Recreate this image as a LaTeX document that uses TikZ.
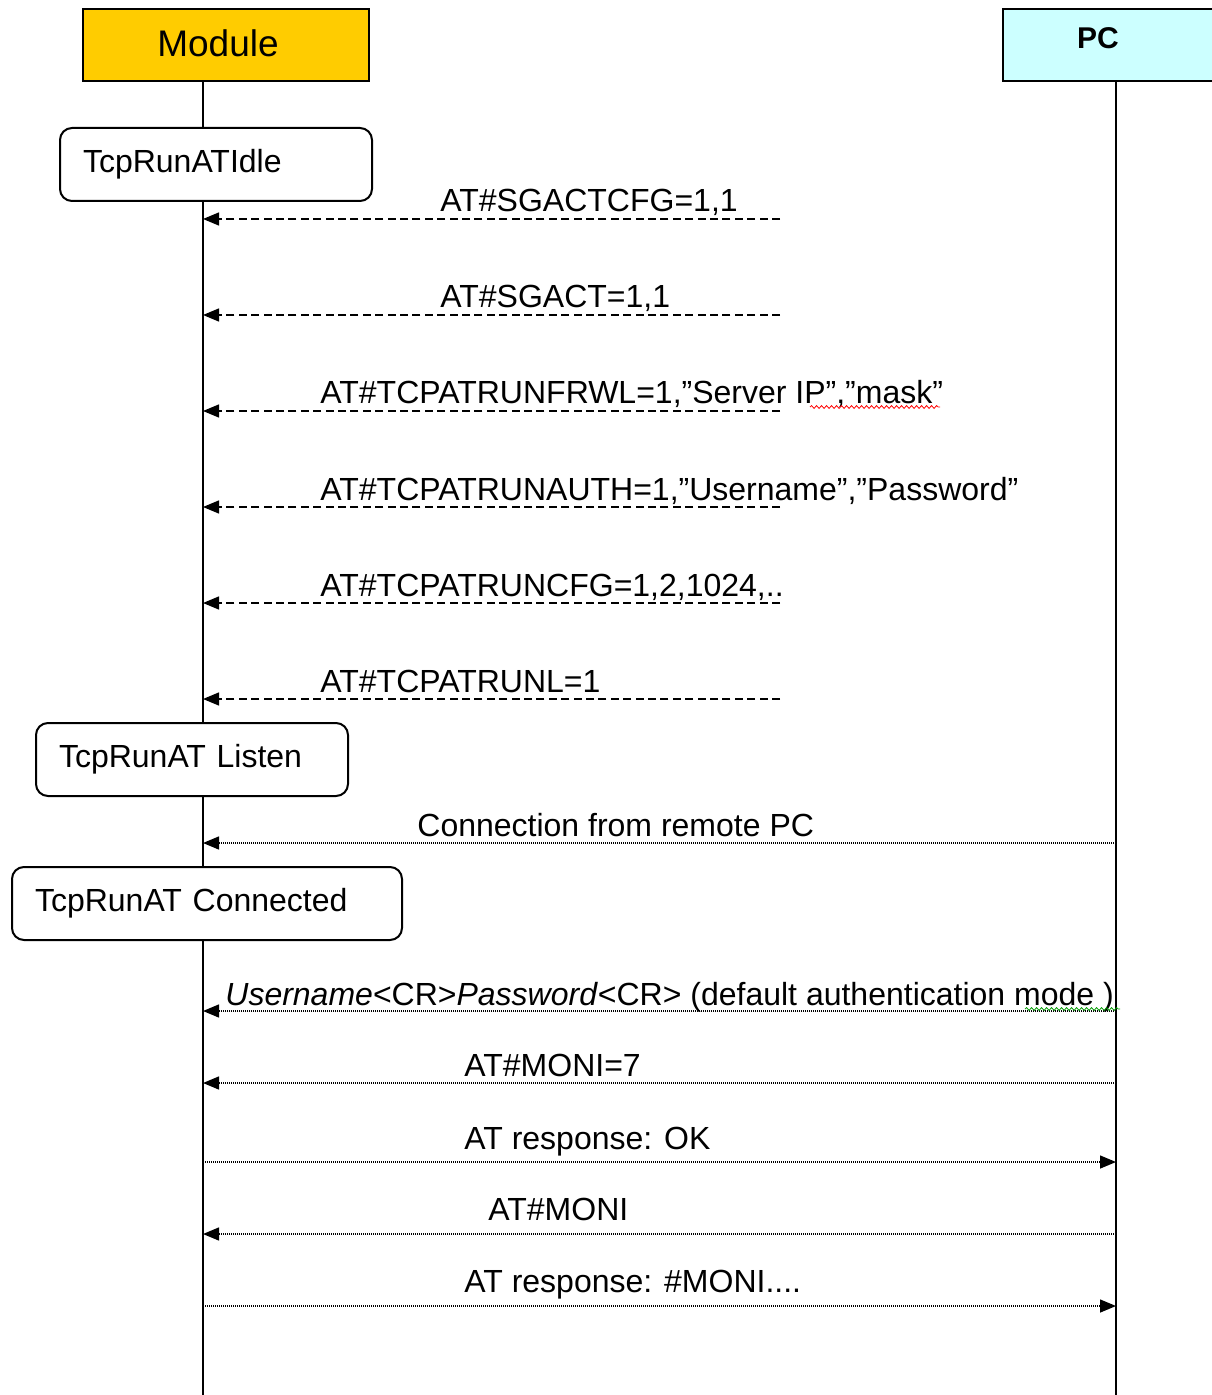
\documentclass[tikz,border=0pt]{standalone}
\usepackage{fontspec}
\setmainfont{Liberation Sans}
\usetikzlibrary{arrows.meta,decorations.pathmorphing}

\definecolor{modgold}{RGB}{255,204,0}
\definecolor{pccyan}{RGB}{204,255,255}

\tikzset{
   actor/.style={draw,line width=1pt,minimum height=36pt,inner sep=0pt},
   actorname/.style={inner sep=0pt,font=\fontsize{18.5}{22}\selectfont},
   lifeline/.style={line width=1pt},
   state/.style={draw,fill=white,line width=1pt,rounded corners=6pt,
      minimum height=36.5pt,inner xsep=11.5pt,inner ysep=0pt,align=left,
      anchor=west,font=\fontsize{16}{19}\selectfont},
   msglabel/.style={anchor=base west,inner sep=0pt,font=\fontsize{16}{19}\selectfont},
   cmdarrow/.style={-{Triangle[length=8pt,width=6.5pt]},line width=0.7pt,
      dash pattern=on 4pt off 2.2pt},
   pcarrow/.style={-{Triangle[length=8pt,width=6.5pt]},line width=0.7pt,
      dash pattern=on 0.5pt off 0.5pt},
   squiggle/.style={line width=0.4pt,decorate,
      decoration={snake,amplitude=0.7pt,segment length=2.5pt}}
}

\begin{document}
\begin{tikzpicture}[x=0.5pt,y=-0.5pt]
   \useasboundingbox (0,0) rectangle (1211,1395);

   \coordinate (mline) at (203,1395);
   \coordinate (pline) at (1116,1395);

   \node[actor,fill=modgold,minimum width=143pt] (mod) at (226,45) {};
   \node[actorname] (modname) at (218,43) {Module};
   \node[actor,fill=pccyan,minimum width=106pt] (pc) at (1109,45) {};
   \node[actorname,font=\fontsize{15}{18}\selectfont\bfseries] (pcname) at (1098,38) {PC};

   \draw[lifeline] (mline |- mod.south) -- (mline);
   \draw[lifeline] (pline |- pc.south) -- (pline);
   %%%%%%%%%%
   \node[state,text width=133pt] (idle) at (59,164.5) {TcpRunATIdle};

   \coordinate (m1) at (203,219); \coordinate (p1) at (780,219);
   \draw[cmdarrow] (p1) -- (m1);
   \node[msglabel] (t1) at (440,212) {AT\#SGACTCFG=1,1};

   \coordinate (m2) at (203,315); \coordinate (p2) at (780,315);
   \draw[cmdarrow] (p2) -- (m2);
   \node[msglabel] (t2) at (440,308) {AT\#SGACT=1,1};

   \coordinate (m3) at (203,411); \coordinate (p3) at (780,411);
   \draw[cmdarrow] (p3) -- (m3);
   \node[msglabel] (t3) at (320,404) {AT\#TCPATRUNFRWL=1,”Server IP”,”mask”};
   \draw[red,squiggle] (810,407) -- (940,407);

   \coordinate (m4) at (203,507); \coordinate (p4) at (780,507);
   \draw[cmdarrow] (p4) -- (m4);
   \node[msglabel] (t4) at (320,500) {AT\#TCPATRUNAUTH=1,”Username”,”Password”};

   \coordinate (m5) at (203,603); \coordinate (p5) at (780,603);
   \draw[cmdarrow] (p5) -- (m5);
   \node[msglabel] (t5) at (320,596) {AT\#TCPATRUNCFG=1,2,1024,..};

   \coordinate (m6) at (203,699); \coordinate (p6) at (780,699);
   \draw[cmdarrow] (p6) -- (m6);
   \node[msglabel] (t6) at (320,692) {AT\#TCPATRUNL=1};
   %%%%%%%%%%
   \node[state,text width=133pt] (listen) at (35,759.5) {TcpRunAT Listen};

   \coordinate (m7) at (203,843); \coordinate (p7) at (1116,843);
   \draw[pcarrow] (p7) -- (m7);
   \node[msglabel] (t7) at (417,836) {Connection from remote PC};
   %%%%%%%%%%
   \node[state,text width=172pt] (connected) at (11,903.5) {TcpRunAT Connected};

   \coordinate (m8) at (203,1011); \coordinate (p8) at (1116,1011);
   \draw[pcarrow] (p8) -- (m8);
   \node[msglabel] (t8) at (225,1005) {\textit{Username}<CR>\textit{Password}<CR> (default authentication mode~)};
   \draw[green!60!black,squiggle] (1025,1009) -- (1120,1009);

   \coordinate (m9) at (203,1083); \coordinate (p9) at (1116,1083);
   \draw[pcarrow] (p9) -- (m9);
   \node[msglabel] (t9) at (464,1076) {AT\#MONI=7};

   \coordinate (m10) at (203,1162); \coordinate (p10) at (1116,1162);
   \draw[pcarrow] (m10) -- (p10);
   \node[msglabel] (t10) at (464,1149) {AT response: OK};

   \coordinate (m11) at (203,1234); \coordinate (p11) at (1116,1234);
   \draw[pcarrow] (p11) -- (m11);
   \node[msglabel] (t11) at (488,1220) {AT\#MONI};

   \coordinate (m12) at (203,1306); \coordinate (p12) at (1116,1306);
   \draw[pcarrow] (m12) -- (p12);
   \node[msglabel] (t12) at (464,1292) {AT response: \#MONI....};
\end{tikzpicture}
\end{document}
